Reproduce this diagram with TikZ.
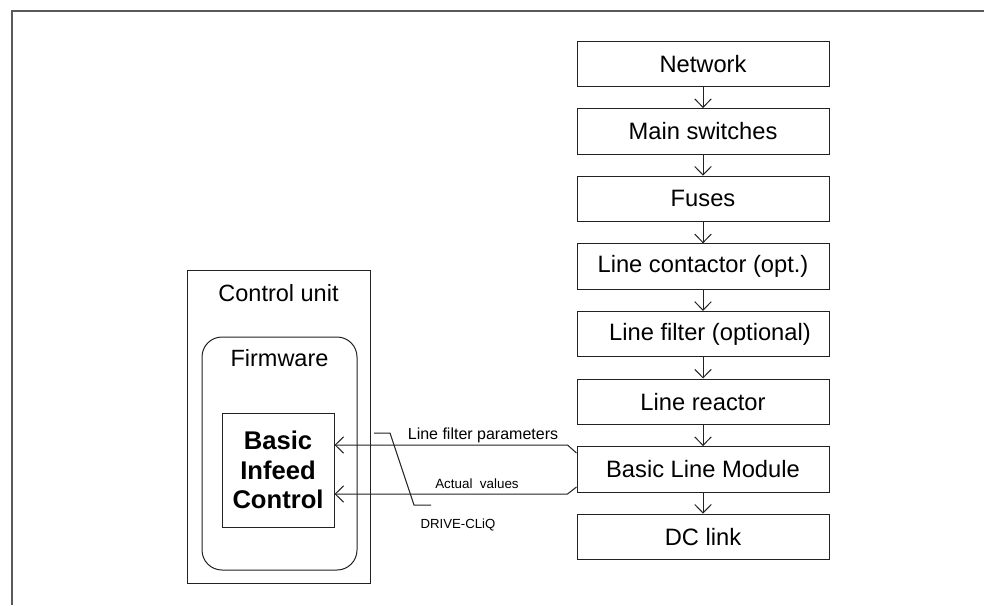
\documentclass[tikz,border=0pt]{standalone}
\usepackage{fontspec}
\setmainfont{Liberation Sans}
\usetikzlibrary{arrows.meta,calc}
\definecolor{framegray}{HTML}{5A5A5A}
\definecolor{linegray}{HTML}{222222}
\tikzset{
  flowbox/.style={draw=linegray,line width=1pt,minimum width=252pt,minimum height=45.5pt,inner sep=0pt,
    font=\fontsize{23.7}{28}\selectfont},
  barb/.style={draw=linegray,line width=1pt,-{Straight Barb[length=8.5pt,width=16.5pt]}},
  plainline/.style={draw=linegray,line width=1pt},
  lbl/.style={inner sep=0pt}
}
\begin{document}
\begin{tikzpicture}[x=1pt,y=-1pt]
\useasboundingbox (0,0) rectangle (984,605);
\fill[white] (0,0) rectangle (984,605);
\draw[framegray,line width=1.4pt] (12,605) -- (12,11) -- (984,11);

% right column
\node[flowbox] (net) at (703,63.75) {Network};
\node[flowbox] (ms) at (703,131.35) {Main switches};
\node[flowbox] (fu) at (703,198.95) {Fuses};
\node[flowbox] (lc) at (703,266.55) {Line contactor (opt.)};
\node[flowbox] (lf) at (703,334.15) {\hspace*{14pt}Line filter (optional)};
\node[flowbox] (lr) at (703,401.75) {Line reactor};
\node[flowbox] (blm) at (703,469.35) {Basic Line Module};
\node[flowbox] (dc) at (703,536.95) {DC link};

\draw[barb] (net) -- (ms);
\draw[barb] (ms) -- (fu);
\draw[barb] (fu) -- (lc);
\draw[barb] (lc) -- (lf);
\draw[barb] (lf) -- (lr);
\draw[barb] (lr) -- (blm);
\draw[barb] (blm) -- (dc);

% control unit
\node[draw=linegray,line width=1pt,minimum width=183pt,minimum height=313pt,inner sep=0pt] (cu) at (278.5,426.5) {};
\node[lbl,font=\fontsize{23.5}{28}\selectfont] (cut) at (278.5,293) {Control unit};
\node[draw=linegray,line width=1pt,rounded corners=20pt,minimum width=155pt,minimum height=233pt,inner sep=0pt] (fw) at (279.5,453.5) {};
\node[lbl,font=\fontsize{23.5}{28}\selectfont] (fwt) at (279.5,358) {Firmware};
\node[draw=linegray,line width=1pt,minimum width=112pt,minimum height=114pt,inner sep=0pt,
  align=center,font=\fontsize{25.6}{29.5}\selectfont\bfseries] (bic) at (278,470) {Basic\\Infeed\\Control};

% signal connectors
\draw[barb] ($(blm.west)+(0,-16.35)$) -- ++(-9,-8) coordinate (c1) -- (c1 -| bic.east);
\draw[barb] ($(blm.west)+(0,17.65)$) -- ++(-9,7) coordinate (c2) -- (c2 -| bic.east);

\node[lbl,font=\fontsize{16}{19}\selectfont] (lfp) at (483,435) {Line filter parameters};
\node[lbl,font=\fontsize{13.4}{16}\selectfont] (av) at (477,484) {Actual\ \ values};
\node[lbl,font=\fontsize{13.2}{16}\selectfont] (dq) at (458,525) {DRIVE-CLiQ};
\draw[plainline] (374,433) -- (390,433) -- (414,505) -- (431,505);
\end{tikzpicture}
\end{document}
